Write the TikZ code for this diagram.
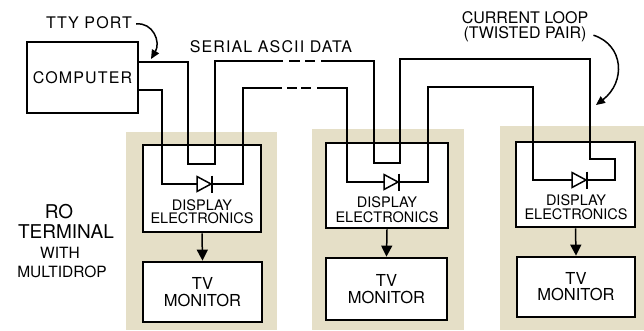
\documentclass[tikz,border=0pt]{standalone}
\usepackage{fontspec}
\setmainfont{TeX Gyre Heros}
\newfontfamily\spacedfont[LetterSpace=7]{TeX Gyre Heros}
\usetikzlibrary{arrows.meta}
\definecolor{panelbg}{RGB}{229,223,199}
\tikzset{
  wire/.style={line width=1.5pt, line join=miter},
  thickbox/.style={draw, line width=2.8pt, fill=white, inner sep=0pt},
  lbl/.style={inner sep=0pt, align=center},
  feed/.style={line width=1.5pt, -{Triangle[length=11pt,width=11pt]}},
  pointer/.style={line width=1.5pt, -{Triangle[length=9pt,width=8pt]}},
  diode/.pic={
    \draw[wire, fill=white] (-7,-7.5) -- (7,0) -- (-7,7.5) -- cycle;
    \draw[line width=2pt] (8,-8.5) -- (8,8.5);
  }
}
\begin{document}
\begin{tikzpicture}[x=1pt, y=-1pt]
\useasboundingbox (0,0) rectangle (644,330);
% panels
\fill[panelbg] (126,132) rectangle (277,330);
\fill[panelbg] (312,129) rectangle (464,330);
\fill[panelbg] (500,126) rectangle (644,330);

% computer
\node[thickbox, line width=2.5pt, minimum width=111pt, minimum height=71pt, font=\spacedfont\fontsize{16}{16}\selectfont] (comp) at (82.5,77.5) {COMPUTER};

% display boxes
\node[thickbox, minimum width=118pt, minimum height=87pt] (d1) at (202,188.5) {};
\node[thickbox, minimum width=122pt, minimum height=85pt] (d2) at (387,185.5) {};
\node[thickbox, minimum width=119pt, minimum height=85pt] (d3) at (575.5,184.5) {};
\node[lbl, font=\fontsize{14.5}{13.5}\selectfont] (d1t) at (202,211.5) {DISPLAY\\ELECTRONICS};
\node[lbl, font=\fontsize{14.5}{14.5}\selectfont] (d2t) at (387,209.5) {DISPLAY\\ELECTRONICS};
\node[lbl, font=\fontsize{14.5}{14}\selectfont] (d3t) at (576,207) {DISPLAY\\ELECTRONICS};

% tv monitors
\node[thickbox, minimum width=119pt, minimum height=60pt, align=center, font=\fontsize{16.5}{17}\selectfont] (tv1) at (202.5,292) {TV\\MONITOR};
\node[thickbox, minimum width=121pt, minimum height=62pt, align=center, font=\fontsize{16.5}{17}\selectfont] (tv2) at (386.5,289) {TV\\MONITOR};
\node[thickbox, minimum width=118pt, minimum height=60pt, align=center, font=\fontsize{16.5}{16}\selectfont] (tv3) at (576,287) {TV\\MONITOR};

\draw[feed] (d1.south) -- (tv1.north);
\draw[feed] (d2.south) -- (tv2.north);
\draw[feed] (d3.south) -- (tv3.north);

% wires
\draw[wire] (138,62) -- (188,62) -- (188,164) -- (215,164) -- (215,61) -- (283,61);
\draw[wire] (289,61) -- (300,61);
\draw[wire] (305,61) -- (315,61);
\draw[wire] (321,61) -- (374,61) -- (374,163) -- (400,163) -- (400,59) -- (590,59)
  -- (590,159) -- (615,159) -- (615,180) -- (533,180) -- (533,87) -- (428,87)
  -- (428,182) -- (347,182) -- (347,88) -- (317,88);
\draw[wire] (301,88) -- (311,88);
\draw[wire] (287,88) -- (297,88);
\draw[wire] (282,88) -- (243,88) -- (243,184) -- (162,184) -- (162,90) -- (138,90);

% diodes
\pic at (204,184) {diode};
\pic at (391,182) {diode};
\pic at (579,180) {diode};

% labels
\node[lbl, font=\spacedfont\fontsize{16}{16}\selectfont] (tty) at (89,23) {TTY PORT};
\node[lbl, font=\spacedfont\fontsize{16}{16}\selectfont] (ser) at (271,47) {SERIAL ASCII DATA};
\node[lbl, font=\fontsize{16}{15}\selectfont] (cl) at (525,27.2) {CURRENT LOOP\\(TWISTED PAIR)};
\coordinate (ttytip) at (151,59);
\coordinate (cltip) at (596,105);
\draw[pointer] (tty.east) ++(4,1) .. controls (153,22) and (161,42) .. (ttytip);
\draw[pointer] (cl.east) ++(5,8) .. controls (624,45) and (626,82) .. (cltip);

\node[lbl, font=\fontsize{19}{19}\selectfont] (ro) at (59,212) {RO};
\node[lbl, font=\fontsize{19}{19}\selectfont] (term) at (66,232) {TERMINAL};
\node[lbl, font=\fontsize{15.5}{15.5}\selectfont] (with) at (60,253) {WITH};
\node[lbl, font=\fontsize{15.5}{15.5}\selectfont] (multi) at (62,272) {MULTIDROP};
\end{tikzpicture}
\end{document}
